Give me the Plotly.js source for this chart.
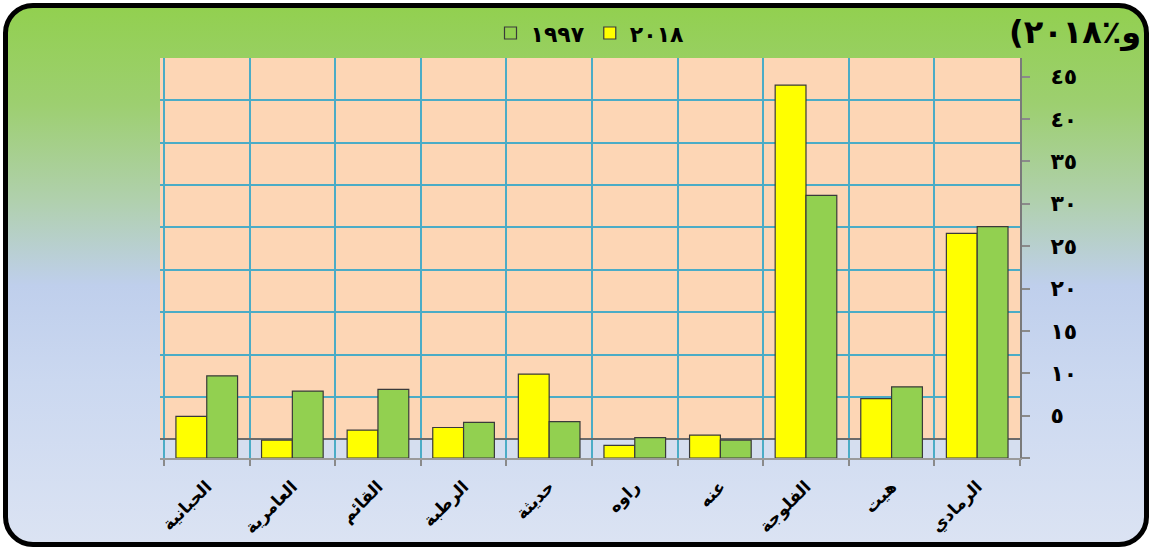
<!DOCTYPE html>
<html>
<head>
<meta charset="utf-8">
<script src="https://cdn.plot.ly/plotly-3.0.1.min.js"></script>
<style>
  body { margin: 0; background: #fff; }
  #frame {
    position: absolute; left: 3px; top: 3px; width: 1146px; height: 544px;
    box-sizing: border-box; border: 5px solid #000; border-radius: 30px;
    background: linear-gradient(to bottom, #92d050 0%, #9dcf70 18%, #b0d0ad 36%, #bfcfec 52%, #cbd8f0 70%, #dbe3f3 100%);
  }
  #chart { position: absolute; left: 0; top: 0; width: 1152px; height: 550px; }
</style>
</head>
<body>
<div id="frame"></div>
<div id="chart"></div>
<script>
document.addEventListener("DOMContentLoaded", () => {

    // districts, left to right as drawn
    const districts = ["الحبانية", "العامرية", "القائم", "الرطبة", "حديثة", "راوه", "عنه", "الفلوجة", "هيت", "الرمادي"];
    const share2018 = [4.9, 2.1, 3.3, 3.6, 9.9, 1.5, 2.7, 44.0, 7.0, 26.5];
    const share1997 = [9.7, 7.9, 8.1, 4.2, 4.3, 2.4, 2.1, 31.0, 8.4, 27.3];

    const yTickVals = [0, 5, 10, 15, 20, 25, 30, 35, 40, 45];
    const yTickText = ["", "٥", "١٠", "١٥", "٢٠", "٢٥", "٣٠", "٣٥", "٤٠", "٤٥"];

    const font = "DejaVu Sans";

    const traces = [
        {
            x: districts,
            y: share2018,
            name: "٢٠١٨",
            type: "bar",
            marker: {color: "#ffff00", line: {color: "#3a3a3a", width: 1.2}},
        },
        {
            x: districts,
            y: share1997,
            name: "١٩٩٧",
            type: "bar",
            marker: {color: "#92d050", line: {color: "#3a3a3a", width: 1.2}},
        },
    ];

    const layout = {
        width: 1152,
        height: 550,
        margin: {l: 160, r: 132, t: 52, b: 92},
        paper_bgcolor: "rgba(0,0,0,0)",
        plot_bgcolor: "#fdd6b5",
        font: {family: font, color: "#000"},
        barmode: "group",
        bargap: 0.28,
        bargroupgap: 0,
        showlegend: true,
        legend: {
            orientation: "h",
            x: 0.5, xanchor: "center",
            y: 1.062, yanchor: "middle",
            traceorder: "reversed",
            bgcolor: "rgba(0,0,0,0)",
            font: {family: font, size: 22, weight: "bold"},
        },
        xaxis: {
            type: "category",
            tickson: "boundaries",
            showgrid: true,
            gridcolor: "#4bacc6",
            gridwidth: 2,
            ticks: "outside",
            ticklen: 6,
            tickcolor: "#8a8a8a",
            tickwidth: 2,
            ticklabelstandoff: 10,
            showline: true,
            linecolor: "#9a9a9a",
            linewidth: 2,
            tickangle: -45,
            tickfont: {family: font, size: 17, weight: "bold"},
        },
        yaxis: {
            side: "right",
            range: [0, 47.2],
            tickvals: yTickVals,
            ticktext: yTickText,
            ticks: "outside",
            ticklen: 8,
            tickwidth: 2,
            tickcolor: "#8a8a8a",
            ticklabelstandoff: 16,
            showline: true,
            linecolor: "#7a7a7a",
            linewidth: 2,
            showgrid: false,
            zeroline: false,
            tickfont: {family: font, size: 22, weight: "bold"},
        },
        // back wall grid, drawn a little higher than the ticks (3-D look)
        yaxis2: {
            overlaying: "y",
            side: "right",
            range: [-2.2, 45],
            dtick: 5,
            showgrid: true,
            gridcolor: "#4bacc6",
            gridwidth: 2,
            showticklabels: false,
            ticks: "",
            showline: false,
            zeroline: true,
            zerolinecolor: "#6b6b6b",
            zerolinewidth: 2,
        },
        shapes: [
            {
                type: "rect", layer: "below",
                xref: "paper", x0: 0, x1: 1,
                yref: "y2", y0: -2.2, y1: 0,
                fillcolor: "#d5deef", line: {width: 0},
            },
        ],
        annotations: [
            {
                text: "(و٪٢٠١٨",
                xref: "paper", yref: "paper",
                x: 1.143, xanchor: "right",
                y: 1.064, yanchor: "middle",
                showarrow: false,
                font: {family: font, size: 32, weight: "bold"},
            },
        ],
    };

    // dummy trace so the overlaying grid axis is active
    traces.push({x: [districts[0]], y: [null], yaxis: "y2", type: "scatter", mode: "markers", showlegend: false, hoverinfo: "skip"});

    Plotly.newPlot("chart", traces, layout, {displayModeBar: false});
});
</script>
</body>
</html>
